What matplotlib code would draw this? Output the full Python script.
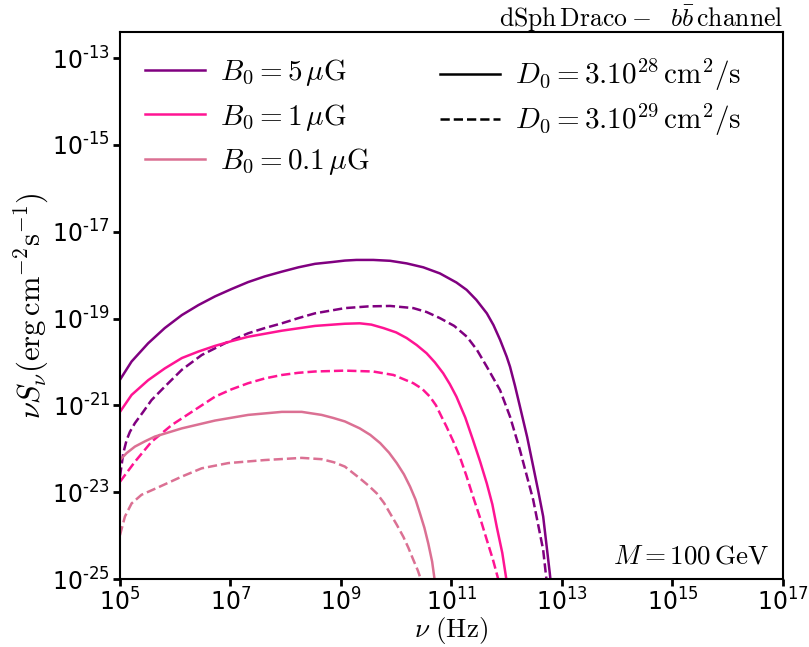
import numpy as np
import matplotlib
matplotlib.use("Agg")
import matplotlib.pyplot as plt
from matplotlib.lines import Line2D
from matplotlib.ticker import FuncFormatter

plt.rcParams['mathtext.fontset'] = 'dejavusans'
plt.rcParams['font.family'] = ['DejaVu Sans']
plt.rcParams['axes.unicode_minus'] = False

# log10(nu [Hz]) and log10(nu S_nu [erg cm^-2 s^-1])
b5_d28_x = [5.0, 5.21, 5.51, 5.81, 6.12, 6.42, 6.72, 7.02, 7.32, 7.62, 7.93, 8.23, 8.53, 8.83, 9.07, 9.28, 9.585,
            9.89, 10.19, 10.49, 10.79, 11.09, 11.275, 11.45, 11.64, 11.76, 11.88, 12.0, 12.06, 12.15, 12.24, 12.37,
            12.48, 12.57, 12.66, 12.78, 12.84]
b5_d28_y = [-20.41, -19.99, -19.57, -19.22, -18.92, -18.69, -18.49, -18.32, -18.16, -18.03, -17.92, -17.82, -17.74,
            -17.70, -17.665, -17.65, -17.65, -17.67, -17.73, -17.82, -17.96, -18.17, -18.34, -18.57, -18.88, -19.15,
            -19.49, -19.88, -20.11, -20.55, -21.03, -21.73, -22.41, -22.97, -23.56, -24.87, -25.6]

b5_d29_x = [5.0, 5.06, 5.12, 5.18, 5.27, 5.42, 5.57, 5.81, 6.12, 6.48, 6.90, 7.32, 7.62, 7.93, 8.23, 8.53, 9.07, 9.5,
            9.89, 10.31, 10.55, 10.79, 11.05, 11.28, 11.46, 11.64, 11.88, 12.06, 12.24, 12.48, 12.66, 12.72, 12.76]
b5_d29_y = [-22.64, -22.10, -21.80, -21.61, -21.41, -21.15, -20.88, -20.57, -20.18, -19.84, -19.57, -19.34, -19.22,
            -19.11, -18.99, -18.88, -18.76, -18.72, -18.71, -18.76, -18.85, -18.99, -19.17, -19.42, -19.72, -20.11,
            -20.65, -21.26, -22.03, -23.18, -24.33, -25.02, -25.6]

b1_d28_x = [5.0, 5.21, 5.51, 5.81, 6.12, 6.42, 6.72, 7.02, 7.32, 7.93, 8.53, 9.07, 9.34, 9.55, 9.77, 10.0, 10.19,
            10.37, 10.55, 10.7, 10.85, 10.97, 11.09, 11.25, 11.39, 11.52, 11.64, 11.74, 11.82, 11.92, 12.0, 12.04]
b1_d28_y = [-21.15, -20.76, -20.42, -20.15, -19.91, -19.76, -19.63, -19.52, -19.42, -19.28, -19.17, -19.12, -19.11,
            -19.14, -19.22, -19.32, -19.45, -19.61, -19.80, -20.01, -20.26, -20.51, -20.80, -21.28, -21.80, -22.30,
            -22.80, -23.28, -23.80, -24.40, -25.06, -25.6]

b1_d29_x = [5.0, 5.27, 5.57, 5.94, 6.30, 6.72, 7.02, 7.32, 7.62, 7.93, 8.23, 8.53, 9.07, 9.58, 9.95, 10.31, 10.47,
            10.61, 10.72, 10.82, 10.91, 11.03, 11.15, 11.27, 11.39, 11.52, 11.64, 11.75, 11.85, 11.9]
b1_d29_y = [-22.76, -22.30, -21.84, -21.45, -21.15, -20.80, -20.63, -20.49, -20.38, -20.30, -20.25, -20.22, -20.20,
            -20.22, -20.30, -20.49, -20.62, -20.80, -21.00, -21.26, -21.49, -21.82, -22.18, -22.62, -23.10, -23.60,
            -24.10, -24.55, -25.02, -25.6]

b01_d28_x = [5.0, 5.12, 5.27, 5.45, 5.63, 6.12, 6.72, 7.32, 7.93, 8.29, 8.65, 8.86, 9.07, 9.34, 9.53, 9.71, 9.87,
             10.01, 10.14, 10.25, 10.35, 10.43, 10.51, 10.58, 10.65, 10.70, 10.74]
b01_d28_y = [-22.26, -22.10, -21.95, -21.83, -21.72, -21.53, -21.35, -21.22, -21.15, -21.15, -21.22, -21.29, -21.37,
             -21.53, -21.68, -21.87, -22.09, -22.33, -22.59, -22.87, -23.17, -23.49, -23.82, -24.18, -24.60, -25.06,
             -25.6]

b01_d29_x = [5.0, 5.09, 5.21, 5.39, 5.69, 6.12, 6.48, 6.96, 7.62, 8.29, 8.65, 8.87, 9.07, 9.34, 9.50, 9.65, 9.78,
             9.89, 10.01, 10.13, 10.22, 10.31, 10.39, 10.46, 10.5]
b01_d29_y = [-23.99, -23.56, -23.26, -23.06, -22.89, -22.64, -22.45, -22.33, -22.26, -22.21, -22.24, -22.31, -22.41,
             -22.68, -22.85, -23.03, -23.25, -23.49, -23.75, -24.03, -24.28, -24.56, -24.80, -25.06, -25.6]

series = [
    (b5_d28_x, b5_d28_y, 'purple', '-'),
    (b5_d29_x, b5_d29_y, 'purple', '--'),
    (b1_d28_x, b1_d28_y, 'deeppink', '-'),
    (b1_d29_x, b1_d29_y, 'deeppink', '--'),
    (b01_d28_x, b01_d28_y, 'palevioletred', '-'),
    (b01_d29_x, b01_d29_y, 'palevioletred', '--'),
]

b_labels = [r'$B_0=5\,\mu\mathrm{G}$', r'$B_0=1\,\mu\mathrm{G}$', r'$B_0=0.1\,\mu\mathrm{G}$']
b_colors = ['purple', 'deeppink', 'palevioletred']
d_labels = [r'$D_0=3.10^{28}\,\mathrm{cm}^2/\mathrm{s}$', r'$D_0=3.10^{29}\,\mathrm{cm}^2/\mathrm{s}$']
d_styles = ['-', '--']

fig = plt.figure(figsize=(8.09, 6.47), dpi=100)
ax = fig.add_axes([0.1483, 0.1051, 0.8195, 0.8454])

for x, y, c, ls in series:
    ax.plot(10.0**np.array(x), 10.0**np.array(y), color=c, ls=ls, lw=1.8)

ax.set_xscale('log')
ax.set_yscale('log')
ax.set_xlim(1e5, 1e17)
ax.set_ylim(1e-25, 10**-12.4)
ax.set_xticks([10.0**k for k in range(5, 18, 2)])
ax.set_yticks([10.0**k for k in range(-25, -12, 2)])
ax.minorticks_off()


def fmt(v, pos):
    e = int(round(np.log10(v)))
    return r'$\mathdefault{10^{\text{%d}}}$' % e


ax.xaxis.set_major_formatter(FuncFormatter(fmt))
ax.yaxis.set_major_formatter(FuncFormatter(fmt))
ax.tick_params(which='major', direction='out', length=5, width=2, labelsize=17, pad=2)
for s in ax.spines.values():
    s.set_linewidth(1.5)

ax.set_xlabel(r'$\nu\ (\mathrm{Hz})$', fontsize=19.5, labelpad=-1, math_fontfamily='cm')
ax.set_ylabel(r'$\nu S_\nu (\mathrm{erg\,cm^{-2}s^{-1}})$', fontsize=22, labelpad=1, math_fontfamily='cm')

ax.text(1.0, 1.009, r'$\mathrm{dSph\,Draco-}\ \ b\bar{b}\,\mathrm{channel}$', transform=ax.transAxes,
        ha='right', va='baseline', fontsize=18.5, math_fontfamily='cm')
ax.text(0.98, 0.018, r'$M=100\,\mathrm{GeV}$', transform=ax.transAxes,
        ha='right', va='bottom', fontsize=19.5, math_fontfamily='cm')

lprop = {'size': 21, 'math_fontfamily': 'cm'}
h1 = [Line2D([], [], color=c, lw=1.8) for c in b_colors]
leg1 = ax.legend(h1, b_labels, loc='upper left', bbox_to_anchor=(0.0, 1.0), frameon=False,
                 prop=lprop, handlelength=2.06, handletextpad=0.51, labelspacing=0.47,
                 borderaxespad=0.45)
ax.add_artist(leg1)
h2 = [Line2D([], [], color='black', lw=1.8, ls=s) for s in d_styles]
ax.legend(h2, d_labels, loc='upper left', bbox_to_anchor=(0.445, 1.0), frameon=False,
          prop=lprop, handlelength=2.06, handletextpad=0.51, labelspacing=0.30,
          borderaxespad=0.45)

fig.savefig('out.png', dpi=100)
